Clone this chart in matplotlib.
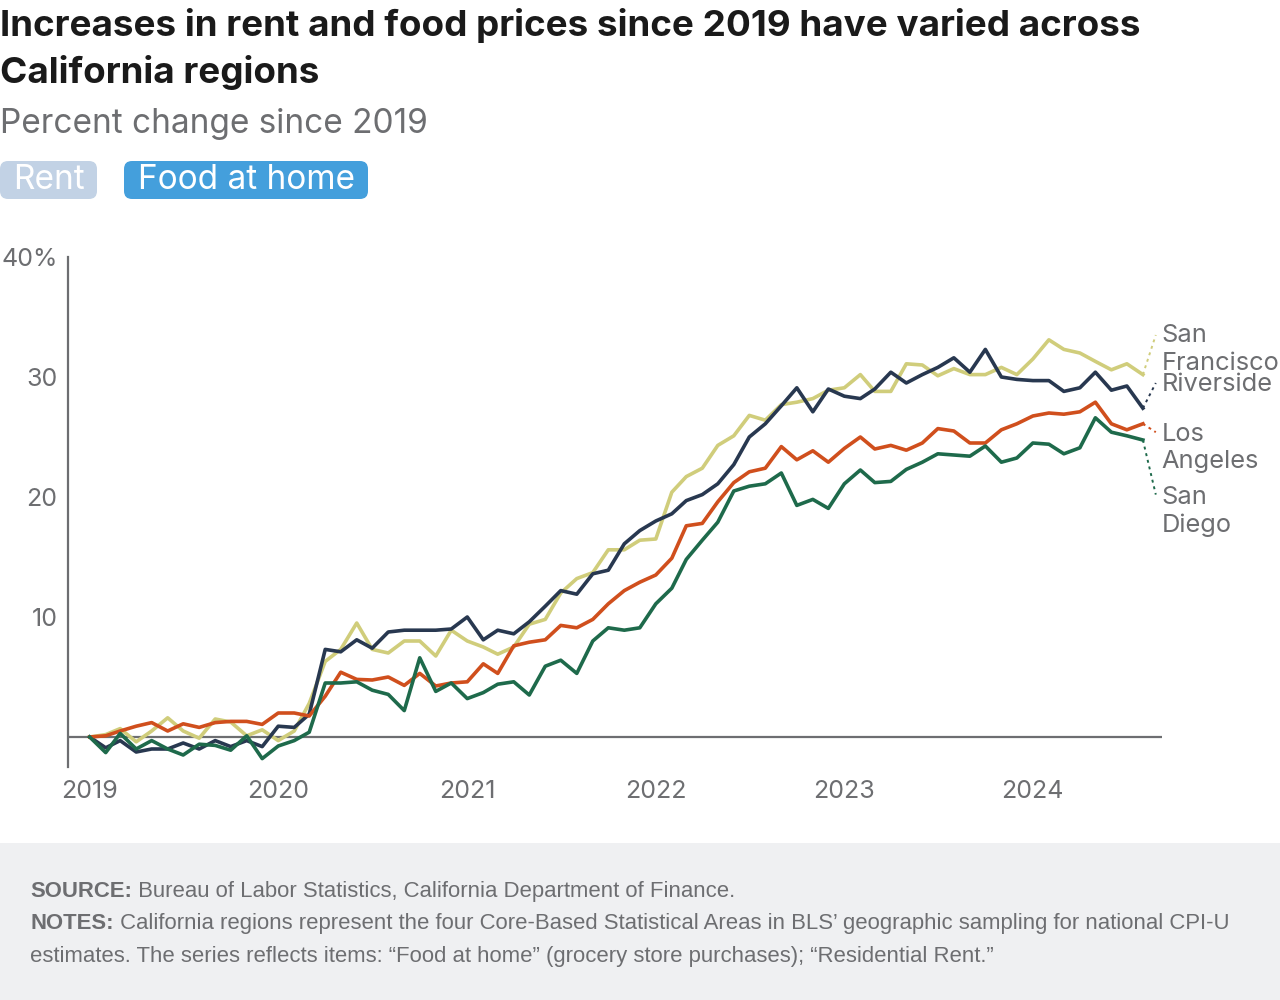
import matplotlib
matplotlib.use('Agg')
import matplotlib.pyplot as plt
from matplotlib.patches import FancyBboxPatch, Rectangle
import pandas as pd

plt.rcParams['font.family'] = ['Inter', 'DejaVu Sans']

months = pd.date_range('2019-01-01', '2024-08-01', freq='MS')

san_francisco = [0, 0.2, 0.7, -0.4, 0.5, 1.6, 0.5, -0.1, 1.5, 1.25, 0.1, 0.6,
                 -0.3, 0.5, 2.8, 6.3, 7.3, 9.5, 7.3, 7.0, 8.0, 8.0, 6.75, 8.9,
                 8.0, 7.5, 6.9, 7.5, 9.4, 9.8, 12.0, 13.2, 13.7, 15.6, 15.6, 16.4,
                 16.5, 20.4, 21.7, 22.4, 24.3, 25.1, 26.8, 26.4, 27.7, 27.9, 28.2, 28.9,
                 29.1, 30.2, 28.8, 28.8, 31.1, 31.0, 30.1, 30.7, 30.2, 30.2, 30.8, 30.2,
                 31.5, 33.1, 32.3, 32.0, 31.3, 30.6, 31.1, 30.2]
riverside = [0, -0.9, -0.3, -1.25, -1.0, -1.0, -0.5, -1.0, -0.3, -0.8, -0.3, -0.8,
             0.9, 0.8, 1.9, 7.3, 7.1, 8.1, 7.4, 8.75, 8.9, 8.9, 8.9, 9.0,
             10.0, 8.1, 8.9, 8.6, 9.6, 10.9, 12.2, 11.9, 13.6, 13.9, 16.1, 17.2,
             18.0, 18.6, 19.7, 20.2, 21.1, 22.7, 25.0, 26.1, 27.6, 29.1, 27.1, 29.0,
             28.4, 28.2, 29.0, 30.4, 29.5, 30.2, 30.8, 31.6, 30.4, 32.3, 30.0, 29.8,
             29.7, 29.7, 28.8, 29.1, 30.4, 28.9, 29.25, 27.4]
los_angeles = [0, 0.1, 0.5, 0.9, 1.2, 0.5, 1.1, 0.8, 1.2, 1.3, 1.3, 1.05,
               2.0, 2.0, 1.75, 3.4, 5.4, 4.8, 4.75, 5.0, 4.3, 5.3, 4.25, 4.5,
               4.6, 6.1, 5.3, 7.6, 7.9, 8.1, 9.3, 9.1, 9.8, 11.1, 12.2, 12.9,
               13.5, 14.9, 17.6, 17.8, 19.6, 21.2, 22.1, 22.4, 24.2, 23.1, 23.85, 22.9,
               24.05, 25.0, 24.0, 24.3, 23.9, 24.5, 25.7, 25.5, 24.5, 24.5, 25.6, 26.1,
               26.75, 27.0, 26.9, 27.1, 27.9, 26.1, 25.6, 26.1]
san_diego = [0, -1.3, 0.3, -1.0, -0.3, -1.0, -1.5, -0.6, -0.7, -1.1, 0.1, -1.8,
             -0.75, -0.3, 0.4, 4.5, 4.5, 4.6, 3.9, 3.55, 2.2, 6.6, 3.8, 4.5,
             3.2, 3.7, 4.4, 4.6, 3.5, 5.9, 6.4, 5.3, 8.0, 9.1, 8.9, 9.1,
             11.1, 12.4, 14.8, 16.4, 17.9, 20.5, 20.9, 21.1, 22.0, 19.3, 19.8, 19.05,
             21.1, 22.25, 21.2, 21.3, 22.3, 22.9, 23.6, 23.5, 23.4, 24.25, 22.9, 23.25,
             24.5, 24.4, 23.6, 24.1, 26.6, 25.4, 25.1, 24.75]

series = [
    ('San\nFrancisco', san_francisco, '#d0cd7b', 32.3),
    ('Riverside', riverside, '#283850', 29.4),
    ('Los\nAngeles', los_angeles, '#d04f1d', 24.1),
    ('San\nDiego', san_diego, '#1e6a4b', 18.8),
]
leader_ends = [33.5, 29.5, 25.4, 20.2]

year_ticks = pd.date_range('2019-01-01', '2024-01-01', freq='YS')
year_labels = ['2019', '2020', '2021', '2022', '2023', '2024']

gray = '#6d6e71'

fig = plt.figure(figsize=(12.8, 10), dpi=100)

fig.text(0.0, 1 - 36 / 1000, 'Increases in rent and food prices since 2019 have varied across',
         fontsize=26.5, fontweight='bold', color='#1a1a1a', va='baseline')
fig.text(0.0, 1 - 83 / 1000, 'California regions',
         fontsize=26.5, fontweight='bold', color='#1a1a1a', va='baseline')
fig.text(0.0, 1 - 133 / 1000, 'Percent change since 2019',
         fontsize=24, color=gray, va='baseline')

# toggle buttons
fig.add_artist(FancyBboxPatch((0.0, 8.01), 0.97, 0.38, boxstyle='round,pad=0,rounding_size=0.08',
                              transform=fig.dpi_scale_trans, fc='#c2d2e5', ec='none'))
fig.add_artist(FancyBboxPatch((1.24, 8.01), 2.44, 0.38, boxstyle='round,pad=0,rounding_size=0.08',
                              transform=fig.dpi_scale_trans, fc='#449fdc', ec='none'))
fig.text(0.485, 8.2, 'Rent', transform=fig.dpi_scale_trans, fontsize=24, color='white',
         ha='center', va='center')
fig.text(2.46, 8.2, 'Food at home', transform=fig.dpi_scale_trans, fontsize=24, color='white',
         ha='center', va='center')

ax = fig.add_axes([68 / 1280, 233 / 1000, (1162 - 68) / 1280, 510 / 1000])

for name, vals, color, label_y in series:
    ax.plot(months, vals, color=color, lw=2.6)

label_x = pd.Timestamp('2024-09-06')
leader_x = pd.Timestamp('2024-08-26')
for (name, vals, color, label_y), end_y in zip(series, leader_ends):
    ax.plot([months[-1], leader_x], [vals[-1], end_y], color=color, lw=1.4,
            ls=(0, (1.5, 2)), clip_on=False)
    ax.text(label_x, label_y, name, fontsize=18.3, color=gray, va='center', ha='left',
            linespacing=1.24, clip_on=False)

ax.axhline(0, color=gray, lw=1.6, zorder=0)

ax.set_xlim(pd.Timestamp('2018-11-20'), pd.Timestamp('2024-09-07'))
ax.set_ylim(-2.5, 40)
ax.set_xticks(year_ticks)
ax.set_xticklabels(year_labels)
ax.set_yticks([10, 20, 30, 40])
ax.set_yticklabels(['10', '20', '30', '40%'])
ax.tick_params(axis='both', length=0, labelsize=18, labelcolor=gray)
ax.tick_params(axis='x', pad=9)
ax.tick_params(axis='y', pad=7.5)
for s in ['top', 'right', 'bottom']:
    ax.spines[s].set_visible(False)
ax.spines['left'].set_color(gray)
ax.spines['left'].set_linewidth(1.6)

# footer
fig.add_artist(Rectangle((0, 0), 1, 157 / 1000, transform=fig.transFigure, fc='#eff0f2', ec='none'))
renderer = fig.canvas.get_renderer()
footer = [
    ('SOURCE:', ' Bureau of Labor Statistics, California Department of Finance.', 897),
    ('NOTES:', ' California regions represent the four Core-Based Statistical Areas in BLS\u2019 geographic sampling for national CPI-U', 929),
    ('', 'estimates. The series reflects items: \u201cFood at home\u201d (grocery store purchases); \u201cResidential Rent.\u201d', 962),
]
for bold, rest, y in footer:
    x0 = 30 / 1280
    if bold:
        t = fig.text(x0, 1 - y / 1000, bold, fontsize=15.9, fontweight='bold', color=gray,
                     va='baseline', family='Liberation Sans')
        x0 = t.get_window_extent(renderer).x1 / 1280
    fig.text(x0, 1 - y / 1000, rest, fontsize=15.9, color=gray, va='baseline', family='Liberation Sans')

fig.savefig('out.png', dpi=100)
